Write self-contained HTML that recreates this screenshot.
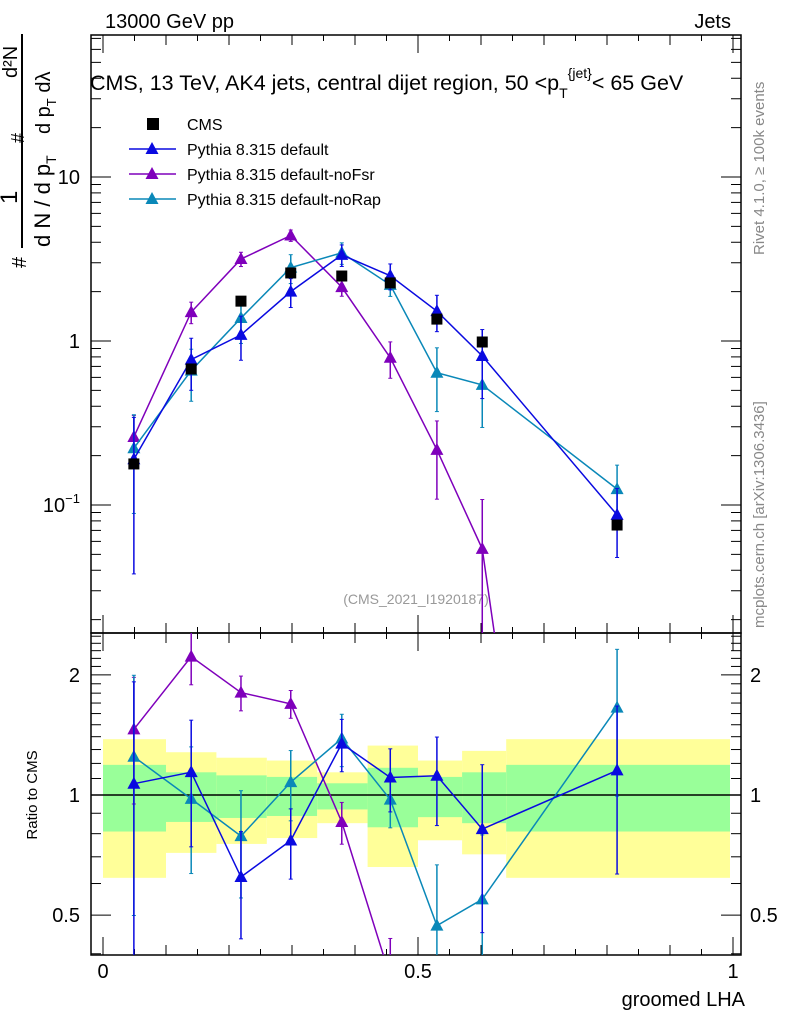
<!DOCTYPE html>
<html><head><meta charset="utf-8">
<style>
html,body{margin:0;padding:0;background:#fff;overflow:hidden;}
svg{display:block;font-family:"Liberation Sans",sans-serif;}
</style></head>
<body>
<svg id="c" width="786" height="1024" viewBox="0 0 786 1024">
<text x="105" y="28" font-size="20">13000 GeV pp</text>
<text x="731" y="28" font-size="20" text-anchor="end">Jets</text>
<text x="90" y="90" font-size="21.5">CMS, 13 TeV, AK4 jets, central dijet region, 50 &lt;p<tspan font-size="14" dy="8">T</tspan><tspan font-size="14" dy="-20">{jet}</tspan><tspan dy="12">&lt; 65 GeV</tspan></text>
<g font-size="22">
<line x1="22" y1="248" x2="22" y2="34" stroke="#000" stroke-width="2"/>
<text transform="translate(26,268) rotate(-90)" font-size="20">#</text>
<text transform="translate(17,204) rotate(-90)" font-size="24">1</text>
<text transform="translate(50,247) rotate(-90)">d N / d p<tspan font-size="14" dy="6">T</tspan></text>
<text transform="translate(24,143) rotate(-90)" font-size="18">#</text>
<text transform="translate(17,78) rotate(-90)" font-size="20">d²N</text>
<text transform="translate(50,134) rotate(-90)" font-size="20">d p<tspan font-size="13" dy="6">T</tspan><tspan dy="-6">  dλ</tspan></text>
</g>
<text transform="translate(764,255) rotate(-90)" font-size="15" fill="#888">Rivet 4.1.0, ≥ 100k events</text>
<text transform="translate(764,628) rotate(-90)" font-size="15" fill="#888">mcplots.cern.ch [arXiv:1306.3436]</text>
<text x="416" y="604" font-size="14" fill="#999" text-anchor="middle">(CMS_2021_I1920187)</text>
<text transform="translate(37,795) rotate(-90)" font-size="15" text-anchor="middle">Ratio to CMS</text>
<text x="745" y="1006" font-size="20" text-anchor="end">groomed LHA</text>
<g id="g"></g>
</svg>
<script>
const xVals=[0.049,0.14,0.219,0.298,0.379,0.456,0.53,0.602,0.816];
const binEdges=[0,0.1,0.18,0.26,0.34,0.42,0.5,0.57,0.64,1.0];
const cmsVals=[0.178,0.675,1.75,2.6,2.49,2.26,1.36,0.986,0.0755];
const defVals=[0.19,0.77,1.09,2.0,3.35,2.5,1.52,0.81,0.087];
const defErr=[0.8,0.35,0.3,0.2,0.15,0.18,0.25,0.45,0.45];
const fsrVals=[0.26,1.5,3.16,4.4,2.13,0.79,0.217,0.054,0.0000001];
const fsrErr=[0.35,0.15,0.1,0.08,0.12,0.25,0.5,1.0,1.0];
const rapVals=[0.222,0.66,1.38,2.8,3.45,2.2,0.64,0.54,0.125];
const rapErr=[0.6,0.35,0.3,0.2,0.15,0.15,0.42,0.45,0.4];
const band1Hi=[1.19,1.14,1.12,1.11,1.07,1.17,1.11,1.14,1.19];
const band1Lo=[0.81,0.856,0.876,0.886,0.92,0.83,0.88,0.85,0.81];
const band2Hi=[1.38,1.28,1.24,1.22,1.14,1.33,1.22,1.29,1.38];
const band2Lo=[0.62,0.716,0.754,0.78,0.85,0.66,0.77,0.71,0.62];

const NS="http://www.w3.org/2000/svg";
const g=document.getElementById('g');
const L=91,R=741,T=35,M=633,B=955;
const X=v=>103+630*v;
const Y=v=>341-164*Math.log10(v);
const YR=v=>795-399*Math.log10(v);
function mk(t,a,parent){const e=document.createElementNS(NS,t);for(const k in a)e.setAttribute(k,a[k]);(parent||g).appendChild(e);return e;}
const clipM=mk('clipPath',{id:'cm'});mk('rect',{x:L,y:T,width:R-L,height:M-T},clipM);
const clipR=mk('clipPath',{id:'cr'});mk('rect',{x:L,y:M,width:R-L,height:B-M},clipR);

const bands=mk('g',{'clip-path':'url(#cr)'});


for(let i=0;i<xVals.length;i++){
  const x0=X(binEdges[i]),x1=Math.min(X(binEdges[i+1]),730);
  const y=mk('rect',{x:x0,y:YR(band2Hi[i]),width:x1-x0,height:YR(band2Lo[i])-YR(band2Hi[i]),fill:'#ffff99'},bands);
  
  
  const gr=mk('rect',{x:x0,y:YR(band1Hi[i]),width:x1-x0,height:YR(band1Lo[i])-YR(band1Hi[i]),fill:'#99ff99'},bands);
  
  
}
mk('line',{x1:L,x2:R,y1:YR(1),y2:YR(1),stroke:'#000','stroke-width':1.5});

mk('rect',{x:L,y:T,width:R-L,height:M-T,fill:'none',stroke:'#000','stroke-width':1.5});
mk('rect',{x:L,y:M,width:R-L,height:B-M,fill:'none',stroke:'#000','stroke-width':1.5});

for(let k=0;k<=20;k++){const v=k*0.05,x=X(v);const big=k%10==0,mid=k%2==0;const len=big?18:(mid?10:6);
  mk('line',{x1:x,x2:x,y1:B,y2:B-len,stroke:'#000'});mk('line',{x1:x,x2:x,y1:M,y2:M-len,stroke:'#000'});
  mk('line',{x1:x,x2:x,y1:M,y2:M+len,stroke:'#000'});mk('line',{x1:x,x2:x,y1:T,y2:T+len,stroke:'#000'});}
const xTickLabels=['0','0.5','1'];
[0,0.5,1].forEach((v,i)=>{const t=mk('text',{x:X(v),y:978,'font-size':20,'text-anchor':'middle'});t.textContent=xTickLabels[i];
  
  });
for(let d=-2;d<=1;d++)for(let m=1;m<=9;m++){const v=m*Math.pow(10,d);const y=Y(v);if(y<T||y>M)continue;const len=m==1?20:10;
  mk('line',{x1:L,x2:L+len,y1:y,y2:y,stroke:'#000'});mk('line',{x1:R,x2:R-len,y1:y,y2:y,stroke:'#000'});}
[[10,'10'],[1,'1']].forEach(([v,s])=>{const t=mk('text',{x:80,y:Y(v)+7,'font-size':20,'text-anchor':'end'});t.textContent=s;
  
  });
{const t=mk('text',{x:80,y:Y(0.1)+7,'font-size':20,'text-anchor':'end'});t.innerHTML='10<tspan font-size="13" dy="-9">−1</tspan>';
  
  }
for(let k=4;k<=25;k++){const v=k/10;const y=YR(v);if(y<M||y>B)continue;const big=(v==0.5||v==1||v==2);const len=big?20:10;
  mk('line',{x1:L,x2:L+len,y1:y,y2:y,stroke:'#000'});mk('line',{x1:R,x2:R-len,y1:y,y2:y,stroke:'#000'});}
const rTickLabels=['0.5','1','2'];
[0.5,1,2].forEach((v,i)=>{const a=mk('text',{x:80,y:YR(v)+7,'font-size':20,'text-anchor':'end'});a.textContent=rTickLabels[i];
  
  
  const b=mk('text',{x:750,y:YR(v)+7,'font-size':20});b.textContent=rTickLabels[i];
  
  });

function tri(par,x,y,c){return mk('polygon',{points:`${x},${y-7} ${x-6.5},${y+5} ${x+6.5},${y+5}`,fill:c},par);}
function series(name,vals,err,c){
  [[Y,'url(#cm)',vals],[YR,'url(#cr)',vals.map((v,i)=>v/cmsVals[i])]].forEach(([F,clip,vs],pi)=>{
    const grp=mk('g',{'clip-path':clip});
    
    
    mk('polyline',{points:vs.map((v,i)=>X(xVals[i])+','+F(v)).join(' '),fill:'none',stroke:c,'stroke-width':1.5},grp);
    vs.forEach((v,i)=>{const x=X(xVals[i]);const hi=F(v*(1+err[i])),lo=F(Math.max(v*(1-err[i]),1e-9));
      mk('line',{x1:x,x2:x,y1:hi,y2:lo,stroke:c,'stroke-width':1.5},grp);
      mk('line',{x1:x-2,x2:x+2,y1:hi,y2:hi,stroke:c},grp);mk('line',{x1:x-2,x2:x+2,y1:lo,y2:lo,stroke:c},grp);
      const p=tri(grp,x,F(v),c);
      
      });
  });
}
series('pythia-default-nofsr',fsrVals,fsrErr,'#7f00bb');
series('pythia-default-norap',rapVals,rapErr,'#0a88b8');
series('pythia-default',defVals,defErr,'#0a0ae0');
const cg=mk('g',{});


cmsVals.forEach((v,i)=>{const r=mk('rect',{x:X(xVals[i])-5.5,y:Y(v)-5.5,width:11,height:11,fill:'#000'},cg);
  
  });

const leg=[['CMS',null],['Pythia 8.315 default','#0a0ae0'],['Pythia 8.315 default-noFsr','#7f00bb'],['Pythia 8.315 default-noRap','#0a88b8']];
leg.forEach(([s,c],i)=>{const y=124+25*i;const lg=mk('g',{});
  
  
  if(c){mk('line',{x1:129,x2:176,y1:y,y2:y,stroke:c,'stroke-width':1.5},lg);tri(lg,152,y,c);}
  else mk('rect',{x:147,y:y-6,width:12,height:12,fill:'#000'},lg);
  const t=mk('text',{x:187,y:y+6,'font-size':16},lg);t.textContent=s;});
</script>
</body></html>
